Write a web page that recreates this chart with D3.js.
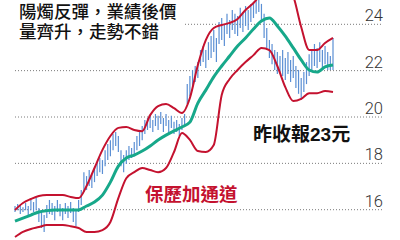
<!DOCTYPE html>
<html><head><meta charset="utf-8">
<script src="https://cdn.jsdelivr.net/npm/d3@7"></script>
<style>
html,body{margin:0;padding:0;background:#fff;}
svg{display:block;}
</style>
</head><body>
<svg id="c" width="400" height="240"></svg>
<script>
// ---- data ----
const tickValues = [16, 18, 20, 22, 24];
const tickLabels = ["16", "18", "20", "22", "24"];
const titleLines = ["陽燭反彈，業績後價", "量齊升，走勢不錯"];
const closeNote = "昨收報23元";
const bandNote = "保歷加通道";

// daily price range (low / high), day index 0..120
const lows = [15.90,15.98,15.81,15.90,15.98,15.77,15.98,15.90,15.98,15.47,15.21,15.04,15.64,15.81,15.77,15.55,15.90,15.72,15.55,15.81,
15.64,15.86,15.47,15.29,15.90,16.20,16.76,16.85,17.02,16.94,17.19,17.45,17.62,17.54,17.88,18.14,18.31,18.57,18.75,18.49,
17.88,17.62,17.97,18.14,18.23,18.31,18.57,18.75,19.00,19.27,19.44,19.53,19.35,19.61,19.44,19.70,19.35,19.61,19.27,19.53,
19.27,19.35,19.18,19.44,19.61,20.56,20.90,21.34,21.51,21.68,22.20,22.37,22.11,22.46,22.55,22.80,22.37,23.15,23.32,23.06,
23.58,23.41,23.75,23.58,23.49,23.84,23.67,23.93,23.75,24.10,24.27,24.45,24.53,24.19,23.41,22.89,22.55,22.28,22.03,21.86,
21.94,21.77,21.60,21.86,21.51,21.68,21.25,21.00,20.73,21.08,21.42,21.77,21.94,22.20,22.11,22.37,22.03,22.28,22.03,22.03,22.03];
const highs = [16.16,16.25,16.20,16.11,16.29,16.16,16.42,16.33,16.50,16.07,15.90,15.77,16.20,16.42,16.29,16.16,16.42,16.25,16.07,16.29,
16.16,16.33,16.07,15.98,16.42,16.85,17.62,17.45,17.71,17.54,17.80,18.05,18.23,18.14,18.57,18.83,19.00,19.27,19.35,19.18,
18.57,18.36,18.57,18.75,18.66,18.92,19.18,19.44,19.61,19.87,19.96,20.05,19.87,20.13,20.05,20.22,19.96,20.13,19.87,20.05,
19.79,19.87,19.70,19.96,20.13,21.42,21.77,22.03,22.20,22.37,22.89,23.06,22.89,23.23,23.49,23.75,23.41,24.10,24.27,24.01,
24.45,24.19,24.62,24.45,24.36,24.71,24.53,24.79,24.62,24.88,24.97,25.05,25.05,24.88,24.45,23.84,23.32,23.15,22.89,22.80,
22.63,22.89,22.55,22.80,22.46,22.63,22.20,22.03,21.68,21.94,22.37,22.71,22.89,23.15,22.98,23.23,22.89,23.06,22.80,22.63,23.41];

// moving average and Bollinger bands, sampled every 3 days (day 0,3,...,120)
const lineDays = [0,3,6,9,12,15,18,21,24,27,30,33,36,39,42,45,48,51,54,57,60,63,66,69,72,75,78,81,84,87,90,93,96,99,102,105,108,111,114,117,120];
const ma20 = [15.51,15.64,15.77,15.90,15.96,15.99,15.99,15.99,15.99,16.16,16.33,16.63,17.19,17.88,18.23,18.36,18.53,18.75,19.01,19.22,
19.40,19.57,19.78,20.60,21.16,21.73,22.20,22.63,23.06,23.41,23.80,24.14,24.27,23.93,23.49,22.98,22.46,22.03,21.94,22.16,22.24];
const upperBand = [15.99,16.29,16.46,16.59,16.63,16.63,16.63,16.55,16.50,17.02,17.80,18.58,19.18,19.53,19.57,19.44,19.39,20.08,20.47,20.56,
20.38,20.17,20.82,22.24,23.32,23.84,23.97,24.06,24.23,24.62,24.92,25.31,25.65,25.74,25.74,25.22,23.88,22.89,22.89,23.19,23.41];
const lowerBand = [14.82,15.04,15.17,15.25,15.34,15.34,15.34,15.29,15.21,15.04,15.04,15.12,15.47,16.50,17.36,17.62,17.80,17.71,17.62,17.80,
18.49,19.31,19.01,18.53,18.49,18.79,20.95,21.64,22.03,22.37,22.67,22.98,22.89,22.20,21.29,20.69,20.78,21.03,21.03,21.12,21.08];

// ---- drawing ----
const svg = d3.select("#c");
const x = d3.scaleLinear().domain([0, 120]).range([15, 333]);
const y = d3.scaleLinear().domain([16, 24]).range([209.7, 24.3]);

const gridLeft = 15, gridRight = 383;
const grid = svg.append("g");
grid.selectAll("line").data(tickValues).join("line")
  .attr("x1", d => d === 24 ? 185 : gridLeft)
  .attr("x2", gridRight)
  .attr("y1", d => y(d)).attr("y2", d => y(d))
  .attr("stroke", "#7a7a7a").attr("stroke-width", 1)
  .attr("stroke-dasharray", "1,2");
grid.selectAll("text").data(tickValues).join("text")
  .attr("x", gridRight).attr("y", d => y(d) - 3)
  .attr("text-anchor", "end")
  .attr("font-family", "Roboto, 'Liberation Sans', sans-serif")
  .attr("font-weight", 300)
  .attr("font-size", 16.5)
  .attr("fill", "#333")
  .text((d, i) => tickLabels[i]);

const days = d3.range(lows.length);
svg.append("g").selectAll("line").data(days).join("line")
  .attr("x1", d => x(d)).attr("x2", d => x(d))
  .attr("y1", d => y(lows[d])).attr("y2", d => y(highs[d]))
  .attr("stroke", "#5b8fd4").attr("stroke-width", 1.2);

const pts = arr => lineDays.map((d, i) => [x(d), y(arr[i])]);
const line = d3.line().curve(d3.curveMonotoneX);
svg.append("path").attr("d", line(pts(upperBand)))
  .attr("fill", "none").attr("stroke", "#c4122f").attr("stroke-width", 2);
svg.append("path").attr("d", line(pts(lowerBand)))
  .attr("fill", "none").attr("stroke", "#c4122f").attr("stroke-width", 2);
svg.append("path").attr("d", line(pts(ma20)))
  .attr("fill", "none").attr("stroke", "#17a88a").attr("stroke-width", 3);

const cjk = "'Liberation Sans', 'Noto Sans CJK TC', 'Noto Sans CJK SC', sans-serif";
svg.append("g").selectAll("text").data(titleLines).join("text")
  .attr("x", 19).attr("y", (d, i) => 18 + i * 20)
  .attr("font-family", cjk).attr("font-size", 17.5).attr("font-weight", 500)
  .attr("fill", "#111").text(d => d);

svg.append("text").attr("x", 253).attr("y", 141)
  .attr("font-family", cjk).attr("font-size", 19).attr("font-weight", 700)
  .attr("fill", "#111").text(closeNote);

svg.append("text").attr("x", 145).attr("y", 201)
  .attr("font-family", cjk).attr("font-size", 18.5).attr("font-weight", 700)
  .attr("fill", "#c4122f").text(bandNote);
</script>
</body></html>
